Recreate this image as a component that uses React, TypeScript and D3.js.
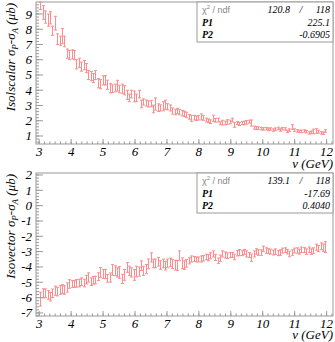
import React from 'react';
import * as d3 from 'd3';

// bin centres: 120 bins of 0.075 GeV between 3 and 12
const nuLow = 3.0;
const binWidth = 0.075;

const isoscalarVals = [
  9.7, 9.1, 8.8, 8.6, 8.75, 7.9, 8.4, 7.35, 7.25, 7.55, 7.2,
  6.4, 6.3, 6.35, 6.3, 5.7, 5.8, 5.55, 5.65, 5.45, 5.0,
  4.93, 4.8, 5.0, 4.46, 4.4, 4.65, 4.65, 4.36, 4.13, 4.1,
  4.15, 4.3, 4.08, 4.1, 4.0, 3.7, 3.5, 3.75, 3.6, 3.5,
  3.75, 3.1, 3.23, 3.16, 3.1, 3.12, 2.77, 3.1, 2.86, 2.84,
  2.95, 3.05, 2.92, 2.84, 2.64, 2.57, 2.64, 2.57, 2.5, 2.45,
  2.38, 2.25, 2.16, 2.2, 2.16, 2.2, 2.25, 2.18, 2.05, 2.0,
  1.94, 2.16, 2.03, 2.05, 1.83, 1.88, 1.85, 1.92, 1.92, 2.05,
  1.72, 1.85, 1.79, 1.85, 1.85, 1.9, 1.94, 1.85, 1.55, 1.52,
  1.52, 1.48, 1.46, 1.48, 1.43, 1.46, 1.39, 1.45, 1.5, 1.39,
  1.48, 1.46, 1.3, 1.39, 1.59, 1.39, 1.33, 1.3, 1.3, 1.33,
  1.28, 1.2, 1.25, 1.3, 1.33, 1.28, 1.2, 1.18, 1.33,
];
const isoscalarErrs = [
  0.4, 0.45, 0.4, 0.4, 0.4, 0.3, 0.45, 0.35, 0.3, 0.5, 0.35,
  0.3, 0.3, 0.3, 0.3, 0.3, 0.3, 0.3, 0.3, 0.3, 0.3,
  0.3, 0.3, 0.3, 0.3, 0.3, 0.3, 0.3, 0.3, 0.3, 0.25,
  0.25, 0.35, 0.25, 0.3, 0.3, 0.3, 0.25, 0.25, 0.35, 0.25,
  0.25, 0.25, 0.2, 0.2, 0.2, 0.2, 0.25, 0.4, 0.25, 0.2,
  0.3, 0.3, 0.2, 0.2, 0.2, 0.18, 0.18, 0.18, 0.18, 0.18,
  0.18, 0.15, 0.2, 0.15, 0.15, 0.15, 0.2, 0.15, 0.12, 0.12,
  0.12, 0.2, 0.12, 0.12, 0.1, 0.15, 0.12, 0.15, 0.12, 0.12,
  0.15, 0.1, 0.1, 0.1, 0.12, 0.12, 0.1, 0.2, 0.1, 0.1,
  0.08, 0.08, 0.08, 0.08, 0.08, 0.08, 0.08, 0.08, 0.08, 0.08,
  0.08, 0.08, 0.08, 0.08, 0.15, 0.08, 0.08, 0.08, 0.08, 0.08,
  0.08, 0.08, 0.08, 0.15, 0.15, 0.1, 0.08, 0.08, 0.08,
];

const isovectorVals = [
  -6.1, -5.72, -5.72, -5.83, -5.94, -5.72, -5.55, -5.61, -5.5, -5.44, -5.5,
  -5.34, -5.11, -5.11, -5.11, -5.07, -5.05, -4.96, -5.05, -4.83, -4.69,
  -4.96, -4.87, -4.85, -4.63, -4.36, -4.46, -4.46, -4.74, -4.69, -4.2,
  -4.25, -4.36, -4.36, -4.78, -4.52, -4.03, -4.25, -4.36, -4.52, -4.3,
  -4.3, -3.92, -4.25, -4.14, -3.8, -3.38, -3.77, -3.77, -3.66, -3.88,
  -3.77, -3.92, -3.77, -3.7, -3.8, -3.88, -3.9, -3.27, -3.76, -3.88,
  -3.76, -3.6, -3.48, -3.48, -3.51, -3.51, -3.48, -3.43, -3.35, -3.4,
  -3.27, -3.15, -3.38, -3.6, -3.43, -3.15, -3.22, -3.27, -3.22, -3.22,
  -3.35, -3.1, -3.06, -3.1, -3.02, -3.15, -3.22, -3.4, -3.15, -2.99,
  -3.06, -3.06, -2.82, -2.93, -2.97, -3.0, -3.06, -3.0, -3.1, -3.06,
  -2.93, -2.9, -3.0, -3.15, -3.06, -2.93, -2.93, -3.0, -2.88, -2.9,
  -3.0, -2.88, -3.0, -2.93, -2.71, -2.8, -2.65, -2.75, -2.7,
];
const isovectorErrs = [
  0.45, 0.3, 0.28, 0.28, 0.28, 0.28, 0.3, 0.28, 0.28, 0.28, 0.28,
  0.3, 0.28, 0.22, 0.22, 0.25, 0.25, 0.25, 0.25, 0.28, 0.3,
  0.25, 0.25, 0.25, 0.25, 0.32, 0.3, 0.3, 0.25, 0.3, 0.35,
  0.32, 0.3, 0.38, 0.3, 0.35, 0.32, 0.3, 0.3, 0.35, 0.35,
  0.3, 0.32, 0.3, 0.3, 0.32, 0.3, 0.28, 0.28, 0.28, 0.28,
  0.28, 0.28, 0.28, 0.28, 0.3, 0.32, 0.32, 0.32, 0.35, 0.28,
  0.25, 0.2, 0.2, 0.16, 0.16, 0.16, 0.2, 0.18, 0.18, 0.2,
  0.2, 0.2, 0.2, 0.18, 0.2, 0.2, 0.2, 0.18, 0.16, 0.16,
  0.18, 0.18, 0.2, 0.16, 0.16, 0.2, 0.16, 0.24, 0.2, 0.18,
  0.18, 0.18, 0.18, 0.18, 0.16, 0.16, 0.16, 0.18, 0.16, 0.18,
  0.16, 0.15, 0.15, 0.18, 0.18, 0.16, 0.18, 0.16, 0.18, 0.16,
  0.18, 0.18, 0.18, 0.18, 0.2, 0.2, 0.22, 0.24, 0.35,
];

const isoscalarStats = [
  ['P1', '225.1'],
  ['P2', '-0.6905'],
];
const isoscalarChi = ['120.8', '118'];
const isovectorStats = [
  ['P1', '-17.69'],
  ['P2', '0.4040'],
];
const isovectorChi = ['139.1', '118'];

const xTicks = [3, 4, 5, 6, 7, 8, 9, 10, 11, 12];
const isoscalarTicks = [1, 2, 3, 4, 5, 6, 7, 8, 9];
const isovectorTicks = [-7, -6, -5, -4, -3, -2, -1, 0, 1, 2];

const W = 335;
const H = 342;
const left = 36;
const right = 333;
const axisColor = '#9a9a9a';
const dataColor = '#ff8c8c';
const serif = "'Liberation Serif', 'Times New Roman', Times, serif";
const sans = "'Liberation Sans', Arial, Helvetica, sans-serif";

const x = d3.scaleLinear().domain([2.9, 12.2]).range([left, right]);

type PanelProps = {
  top: number;
  bottom: number;
  yDomain: [number, number];
  yTicks: number[];
  vals: number[];
  errs: number[];
  title: string;
  chi: string[];
  stats: string[][];
  titleGap: number;
};

function Panel({ top, bottom, yDomain, yTicks, vals, errs, title, chi, stats, titleGap }: PanelProps) {
  const y = d3.scaleLinear().domain(yDomain).range([bottom, top]);
  const xMinor = d3.range(Math.ceil(2.9 * 6), Math.floor(12.2 * 6) + 1).map(k => k / 6);
  const yMinor = d3.range(Math.ceil(yDomain[0] * 5), Math.floor(yDomain[1] * 5) + 1).map(k => k / 5);
  const boxX = 197;
  const boxH = 40;
  const serifStyle = { fontFamily: serif, fontStyle: 'italic' as const };

  return (
    <g>
      <rect x={left} y={top} width={right - left} height={bottom - top} fill="none" stroke={axisColor} strokeWidth={1} />
      {/* data with error bars */}
      <g stroke={dataColor} strokeWidth={1} fill="none">
        {vals.map((v, i) => {
          const nu = nuLow + binWidth * (i + 0.5);
          const cx = Math.round(x(nu)) + 0.5;
          const y0 = Math.max(top, y(v - errs[i]));
          const y1 = Math.max(top, y(v + errs[i]));
          return (
            <g key={i}>
              <line x1={cx} x2={cx} y1={y0} y2={y1} />
              <line x1={cx - 1.5} x2={cx + 1.5} y1={y0} y2={y0} />
              <line x1={cx - 1.5} x2={cx + 1.5} y1={y1} y2={y1} />
            </g>
          );
        })}
      </g>
      {/* ticks */}
      <g stroke={axisColor} strokeWidth={1}>
        {xMinor.map((t, i) => (
          <line key={i} x1={x(t)} x2={x(t)} y1={bottom} y2={bottom - 2.5} />
        ))}
        {xTicks.map(t => (
          <line key={t} x1={x(t)} x2={x(t)} y1={bottom} y2={bottom - 5} />
        ))}
        {yMinor.map((t, i) => (
          <line key={i} x1={left} x2={left + 3} y1={y(t)} y2={y(t)} />
        ))}
        {yTicks.map(t => (
          <line key={t} x1={left} x2={left + 7} y1={y(t)} y2={y(t)} />
        ))}
      </g>
      <g style={serifStyle} fontSize={13} fill="#000">
        {xTicks.map(t => (
          <text key={t} x={x(t)} y={bottom + 12} textAnchor="middle">{t}</text>
        ))}
        {yTicks.map(t => (
          <text key={t} x={left - 4} y={y(t) + 4.5} textAnchor="end">{t < 0 ? '-' + Math.abs(t) : t}</text>
        ))}
        <text x={right} y={bottom + titleGap} textAnchor="end">ν (GeV)</text>
        <text transform={`translate(15,${top + 1}) rotate(-90)`} textAnchor="end" fontSize={13}>
          {title} σ<tspan fontSize={9} dy={3}>P</tspan><tspan dy={-3}>-σ</tspan>
          <tspan fontSize={9} dy={3}>A</tspan><tspan dy={-3}> (μb)</tspan>
        </text>
      </g>
      {/* stats box */}
      <g>
        <rect x={boxX} y={top} width={right - boxX} height={boxH} fill="#fff" stroke={axisColor} strokeWidth={1} />
        <text x={boxX + 5} y={top + 11} style={{ fontFamily: sans }} fontSize={9} fill="#888">
          χ<tspan fontSize={6} dy={-4}>2</tspan><tspan dy={4}> / ndf</tspan>
        </text>
        <g style={serifStyle} fontSize={10} fill="#000">
          <text x={boxX + 93} y={top + 11} textAnchor="end">{chi[0]}</text>
          <text x={boxX + 104} y={top + 11} textAnchor="middle">/</text>
          <text x={right - 3} y={top + 11} textAnchor="end">{chi[1]}</text>
          {stats.map((s, i) => (
            <g key={s[0]}>
              <text x={boxX + 5} y={top + 24 + i * 12} fontWeight="bold">{s[0]}</text>
              <text x={right - 3} y={top + 24 + i * 12} textAnchor="end">{s[1]}</text>
            </g>
          ))}
        </g>
      </g>
    </g>
  );
}

export default function App() {
  return (
    <svg width={W} height={H} style={{ position: 'absolute', left: 0, top: 0, background: '#fff' }}>
      <Panel
        top={2}
        bottom={144}
        yDomain={[0.475, 9.787]}
        yTicks={isoscalarTicks}
        vals={isoscalarVals}
        errs={isoscalarErrs}
        title="Isolscalar"
        chi={isoscalarChi}
        stats={isoscalarStats}
        titleGap={24}
      />
      <Panel
        top={173}
        bottom={316}
        yDomain={[-7.2, 2.13]}
        yTicks={isovectorTicks}
        vals={isovectorVals}
        errs={isovectorErrs}
        title="Isovector"
        chi={isovectorChi}
        stats={isovectorStats}
        titleGap={23}
      />
    </svg>
  );
}
